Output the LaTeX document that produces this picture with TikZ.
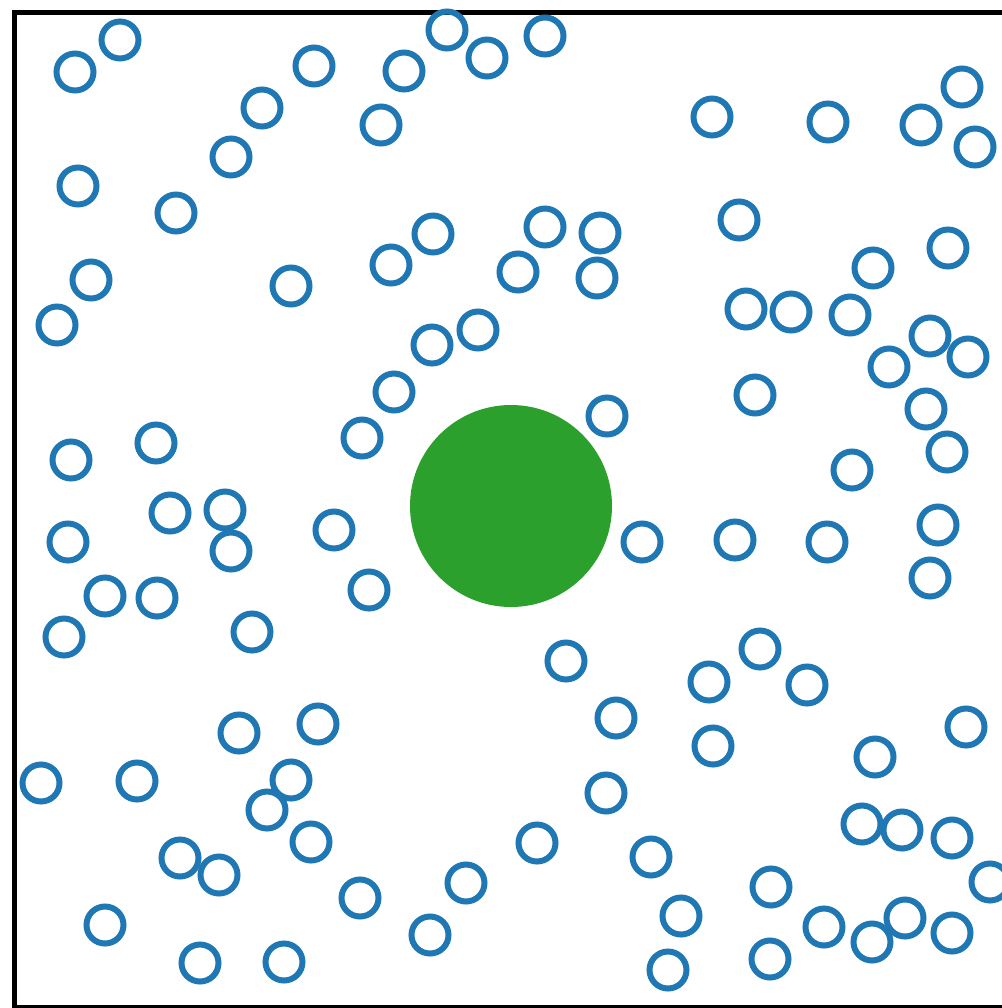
\documentclass[tikz,border=0pt]{standalone}
\definecolor{tabblue}{HTML}{1F77B4}
\definecolor{tabgreen}{HTML}{2CA02C}
\begin{document}
\begin{tikzpicture}[x=0.5pt,y=-0.5pt,
  ring/.style={circle,draw=tabblue,line width=3pt,minimum size=18.5pt,inner sep=0pt},
  blob/.style={circle,fill=tabgreen,minimum size=101pt,inner sep=0pt},
  frame/.style={draw=black,line width=2.5pt}]
\useasboundingbox (0,0) rectangle (1002,1008);
\clip (0,0) rectangle (1002,1008);
\node[frame,rectangle,minimum width=501.5pt,minimum height=497.5pt,inner sep=0pt,anchor=north west] (box) at (12,10) {};
\node[blob] (g) at (511,506) {};
\foreach \i/\x/\y in {1/120/40,2/75/72,3/314/66,4/447/30,5/487/58,6/545/36,7/404/71,8/262/108,9/381/125,10/231/157,
11/712/117,12/828/122,13/921/125,14/962/87,15/975/147,16/78/186,17/176/213,18/433/234,19/545/227,20/600/233,
21/739/220,22/948/248,23/91/280,24/291/286,25/391/265,26/518/272,27/597/278,28/873/268,29/57/325,30/746/309,
31/791/312,32/850/315,33/930/336,34/968/357,35/889/367,36/478/330,37/432/345,38/394/392,39/755/395,40/926/409,
41/607/416,42/362/438,43/156/443,44/71/460,45/947/452,46/852/470,47/170/513,48/225/510,49/231/551,50/334/530,
51/68/542,52/642/542,53/735/540,54/827/542,55/938/525,56/930/578,57/105/596,58/157/598,59/369/590,60/64/637,
61/252/632,62/566/661,63/760/649,64/709/682,65/807/685,66/616/718,67/713/746,68/875/757,69/966/727,70/239/733,
71/318/724,72/41/783,73/137/781,74/291/780,75/267/810,76/311/842,77/606/793,78/537/843,79/180/858,80/219/875,
81/651/857,82/862/824,83/902/830,84/952/838,85/990/882,86/360/898,87/466/883,88/771/887,89/681/916,90/105/925,
91/430/935,92/824/927,93/905/918,94/952/933,95/872/942,96/200/963,97/284/962,98/668/970,99/770/959}
  \node[ring] (c\i) at (\x,\y) {};
\end{tikzpicture}
\end{document}
